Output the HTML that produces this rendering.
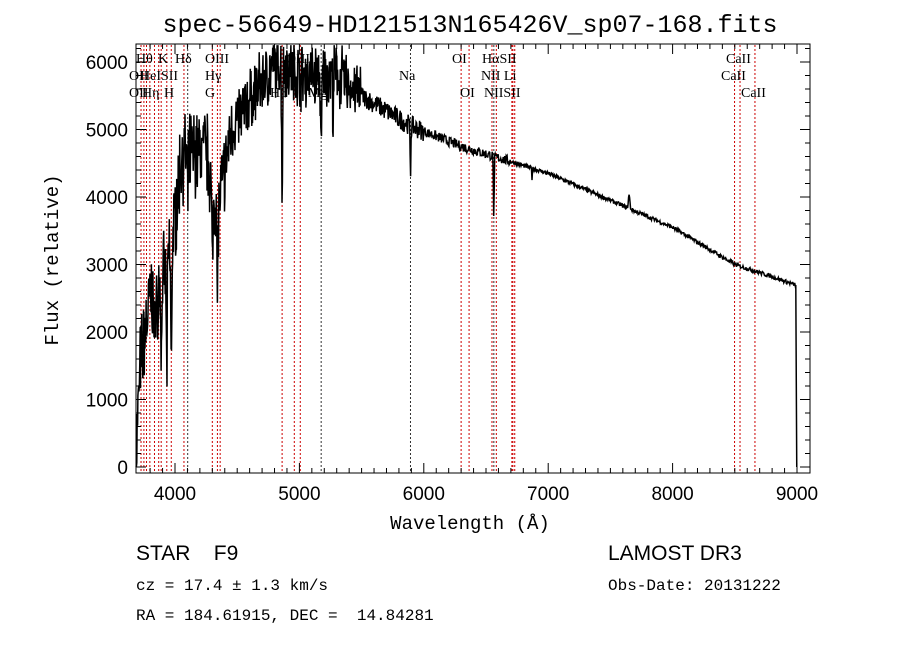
<!DOCTYPE html>
<html><head><meta charset="utf-8"><style>
body{margin:0;background:#fff}
svg{display:block;font-family:"Liberation Serif",serif}
.m{font-family:"Liberation Mono",monospace}
text{white-space:pre}
</style></head><body>
<svg id="s" width="900" height="649" xmlns="http://www.w3.org/2000/svg">
<rect width="900" height="649" fill="#fff"/>
<text x="470" y="32" text-anchor="middle" font-size="25" class="m">spec-56649-HD121513N165426V_sp07-168.fits</text>
<g id="lines"></g>
<polyline id="sp" fill="none" stroke="#000" stroke-width="1.5"/>
<rect x="136" y="44" width="674" height="429" fill="none" stroke="#000" stroke-width="1"/>
<g id="ax" stroke="#000" stroke-width="1"></g>
<g id="lab" font-size="19" font-family="Liberation Sans,sans-serif"></g>
<g id="ll" font-size="14"></g>
<text x="470" y="529" text-anchor="middle" font-size="19" class="m">Wavelength (Å)</text>
<text transform="translate(58,260) rotate(-90)" text-anchor="middle" font-size="19" class="m">Flux (relative)</text>
<text x="136" y="560" font-size="21" font-family="Liberation Sans,sans-serif">STAR    F9</text>
<text x="136" y="590" font-size="16" class="m">cz = 17.4 ± 1.3 km/s</text>
<text x="136" y="620" font-size="16" class="m">RA = 184.61915, DEC =  14.84281</text>
<text x="608" y="560" font-size="21" font-family="Liberation Sans,sans-serif">LAMOST DR3</text>
<text x="608" y="590" font-size="16" class="m">Obs-Date: 20131222</text>
</svg>
<script>
const X=w=>175+(w-4000)*0.1244, Y=f=>467-f*0.0675;
const NS="http://www.w3.org/2000/svg";
function el(p,t,a,txt){const e=document.createElementNS(NS,t);for(const k in a)e.setAttribute(k,a[k]);if(txt)e.textContent=txt;document.getElementById(p).appendChild(e);}
for(let w=3800;w<=9000;w+=100){const x=X(w);const L=w%1000==0?10:5;
el("ax","line",{x1:x,x2:x,y1:473,y2:473-L});el("ax","line",{x1:x,x2:x,y1:44,y2:44+L});
if(w%1000==0)el("lab","text",{x:x,y:500,"text-anchor":"middle"},String(w));}
for(let f=0;f<=6200;f+=200){const y=Y(f);const L=f%1000==0?10:5;
el("ax","line",{x1:136,x2:136+L,y1:y,y2:y});el("ax","line",{x1:810,x2:810-L,y1:y,y2:y});
if(f%1000==0)el("lab","text",{x:128,y:y+7,"text-anchor":"end"},String(f));}
const Ls=[3727,3750,3771,3798,3835,3869,3889,3934,3970,4072,4102,4300,4341,4363,4861,4959,5007,5175,5893,6300,6364,6548,6563,6583,6708,6716,6731,8498,8542,8662];
const blk=[5175,5893,6563,4102];
Ls.forEach(w=>el("lines","line",{x1:X(w),x2:X(w),y1:45,y2:472,stroke:blk.includes(w)?"#333":"#c00","stroke-width":1,"stroke-dasharray":"2,2"}));
const labs=[["Hθ",136,63],["K",158,63],["Hδ",175,63],["OIII",205,63],["OIII",286,63],["OI",452,63],["HαSII",482,63],["CaII",726,63],
["OII",129,80],["HeISII",140,80],["Hγ",205,80],["Na",399,80],["NII Li",481,80],["CaII",721,80],
["OII",129,97],["Hη",142,97],["H",164,97],["G",205,97],["Hβ",270,97],["Mg",308,97],["OI",460,97],["NIISII",484,97],["CaII",741,97]];
labs.forEach(l=>el("ll","text",{x:l[1],y:l[2]},l[0]));
let seed=7;const r=()=>{seed=(seed*16807)%2147483647;return seed/2147483647-0.5;};
function cont(w){const P=[[3690,300],[3720,1500],[3800,2500],[3900,2700],[3990,3500],[4050,4600],[4250,4700],[4350,3800],[4450,5000],[4700,5700],[4850,6000],[5000,5800],[5300,5800],[5500,5500],[5900,5050],[6300,4750],[6600,4580],[7000,4350],[7500,3950],[8000,3550],[8500,3000],[8800,2820],[8980,2700]];
for(let i=0;i<P.length-1;i++)if(w<=P[i+1][0]){const t=(w-P[i][0])/(P[i+1][0]-P[i][0]);return P[i][1]+t*(P[i+1][1]-P[i][1]);}return 2700;}
const dips=[[3934,1600,6],[3970,1800,6],[3835,1300,4],[3860,900,3],[3890,1200,4],[4102,900,5],[4300,1200,8],[4341,1500,5],[4861,1700,6],[5175,1300,6],[5270,600,4],[5893,700,4],[6563,1000,4],[7650,-200,8],[6870,150,3]];
let pts=[];
for(let w=3690;w<=8990;w+=(w<5500?3:4)){let f=cont(w);
let n=w<4400?1000:w<5500?750:w<6000?300:w<6700?150:60;f+=r()*n+(w<5500?r()*n*0.5:0);
dips.forEach(d=>{const g=Math.exp(-Math.pow((w-d[0])/d[2],2));f-=d[1]*g;});
f=Math.min(Math.max(f,0),6250);
pts.push(X(w).toFixed(1)+","+Y(f).toFixed(1));}
pts.push(X(8995)+","+Y(1000));pts.push(X(8998)+","+Y(0));
pts.unshift(X(3685)+","+Y(0));
document.getElementById("sp").setAttribute("points",pts.join(" "));
</script>
</body></html>
